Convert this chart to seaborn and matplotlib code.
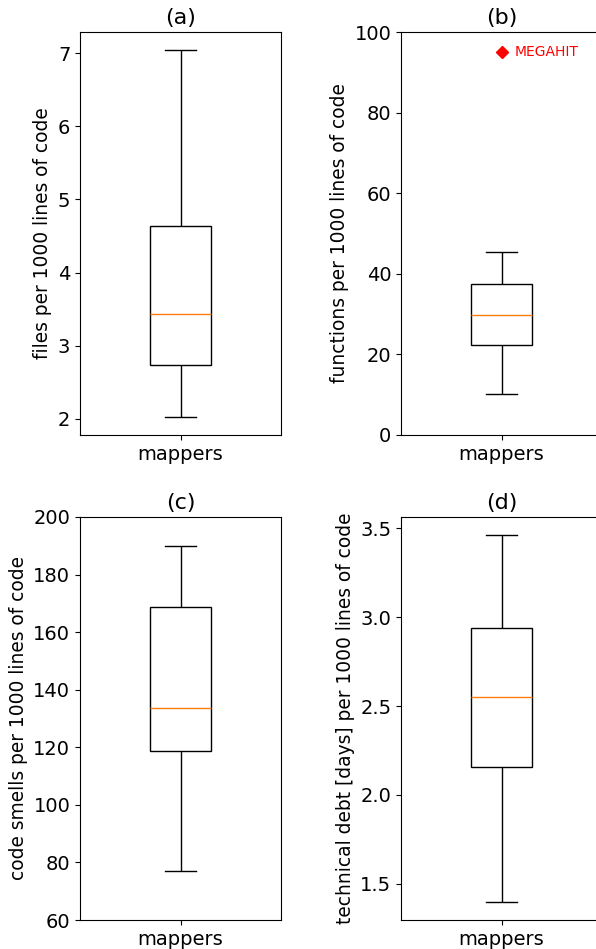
import matplotlib
matplotlib.use("Agg")
import matplotlib.pyplot as plt
import seaborn as sns
import pandas as pd

category = "mappers"

# five-number summaries: min, q1, median, q3, max
files_per_kloc = [2.03, 2.73, 3.43, 4.64, 7.04]
functions_per_kloc = [10.2, 22.3, 29.7, 37.5, 45.3]
smells_per_kloc = [77.0, 118.6, 133.6, 168.8, 189.8]
debt_per_kloc = [1.40, 2.16, 2.55, 2.94, 3.46]

outlier_label = "MEGAHIT"
outlier_value = 95.0

titles = ["(a)", "(b)", "(c)", "(d)"]
ylabels = [
    "files per 1000 lines of code",
    "functions per 1000 lines of code",
    "code smells per 1000 lines of code",
    "technical debt [days] per 1000 lines of code",
]
series = [files_per_kloc, functions_per_kloc, smells_per_kloc, debt_per_kloc]
ylims = [None, (0, 100), (60, 200), None]

fig = plt.figure(figsize=(5.96, 9.49), dpi=100)
W = 201 / 596
H = 403 / 949
positions = [
    (80 / 596, 514 / 949),
    (401 / 596, 514 / 949),
    (80 / 596, 29 / 949),
    (401 / 596, 29 / 949),
]

for i, (vals, (lx, by)) in enumerate(zip(series, positions)):
    ax = fig.add_axes([lx, by, W, H])
    df = pd.DataFrame({"group": [category] * len(vals), "value": vals})
    sns.boxplot(
        data=df, x="group", y="value", ax=ax, width=0.3, whis=(0, 100),
        color="white", linecolor="black", linewidth=1.0,
        medianprops={"color": "#ff7f0e", "linewidth": 1.0},
    )
    ax.set_xlim(-0.5, 0.5)
    if ylims[i] is not None:
        ax.set_ylim(*ylims[i])
    ax.set_xlabel("")
    ax.set_ylabel(ylabels[i], fontsize=13.4)
    ax.set_title(titles[i], fontsize=16)
    ax.tick_params(axis="both", labelsize=14)
    for s in ax.spines.values():
        s.set_visible(True)
        s.set_color("black")
        s.set_linewidth(0.8)
    if i == 1:
        ax.plot([0], [outlier_value], marker="D", color="red", markersize=6, linestyle="none")
        ax.text(0.065, outlier_value, outlier_label, color="red", fontsize=10,
                va="center", ha="left")

fig.savefig("out.png", dpi=100)
